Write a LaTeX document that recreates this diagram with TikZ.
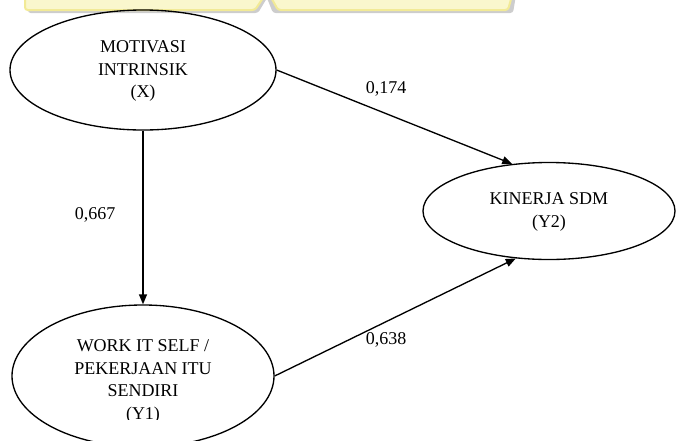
\documentclass[tikz,border=0pt]{standalone}
\usepackage{fontspec}
\setmainfont{Liberation Serif}
\usetikzlibrary{shapes.geometric,arrows.meta}
\definecolor{wmfill}{RGB}{250,247,205}
\definecolor{wmline}{RGB}{242,234,150}
\definecolor{wmshadow}{RGB}{205,205,205}
\begin{document}
\begin{tikzpicture}[x=0.75pt,y=-0.75pt,
 latent/.style={draw,ellipse,line width=1pt,inner sep=0pt},
 lbl/.style={font=\fontsize{13.5}{16.9}\selectfont,align=center,inner sep=0pt},
 pathline/.style={line width=1pt,-{Triangle[length=7.5pt,width=6pt]}},
 coef/.style={font=\fontsize{13.5}{15}\selectfont,inner sep=0pt},
 wm/.style={fill=wmfill,draw=wmline,line width=1.5pt,rounded corners=2pt},
 wmsh/.style={fill=wmshadow,rounded corners=2pt}]
\useasboundingbox (0,0) rectangle (676,440);
% watermark fragment at top
\fill[wmsh] (28,-5) -- (28,13) -- (258,13) -- (267,-2) -- (273,13) -- (513,13) -- (516,-5) -- cycle;
\path[wm] (25,-8) -- (25,10) -- (255,10) -- (265,-5) -- (270,-8) -- cycle;
\path[wm] (268,-8) -- (278,10) -- (508,10) -- (513,-8) -- cycle;
% latent variables
\node[latent,minimum width=199.5pt,minimum height=90pt] (X) at (143,70) {};
\node[lbl] (Xt) at (143,71) {MOTIVASI\\INTRINSIK\\(X)};
\node[latent,minimum width=196.5pt,minimum height=106.5pt] (Y1) at (143,376) {};
\begin{scope}
\clip (0,0) rectangle (676,419);
\node[lbl] (Y1t) at (143,381.5) {WORK IT SELF /\\PEKERJAAN ITU\\SENDIRI\\(Y1)};
\end{scope}
\node[latent,minimum width=189pt,minimum height=72.75pt] (Y2) at (549,211) {};
\node[lbl] (Y2t) at (549,212) {KINERJA SDM\\(Y2)};
% paths
\draw[pathline] (X.south) -- (Y1.north);
\draw[pathline] (X.east) -- (Y2.128);
\draw[pathline] (Y1.east) -- (Y2.235);
% coefficients
\node[coef] (c1) at (95,215) {0,667};
\node[coef] (c2) at (386,89) {0,174};
\node[coef] (c3) at (386,340) {0,638};
\end{tikzpicture}
\end{document}
